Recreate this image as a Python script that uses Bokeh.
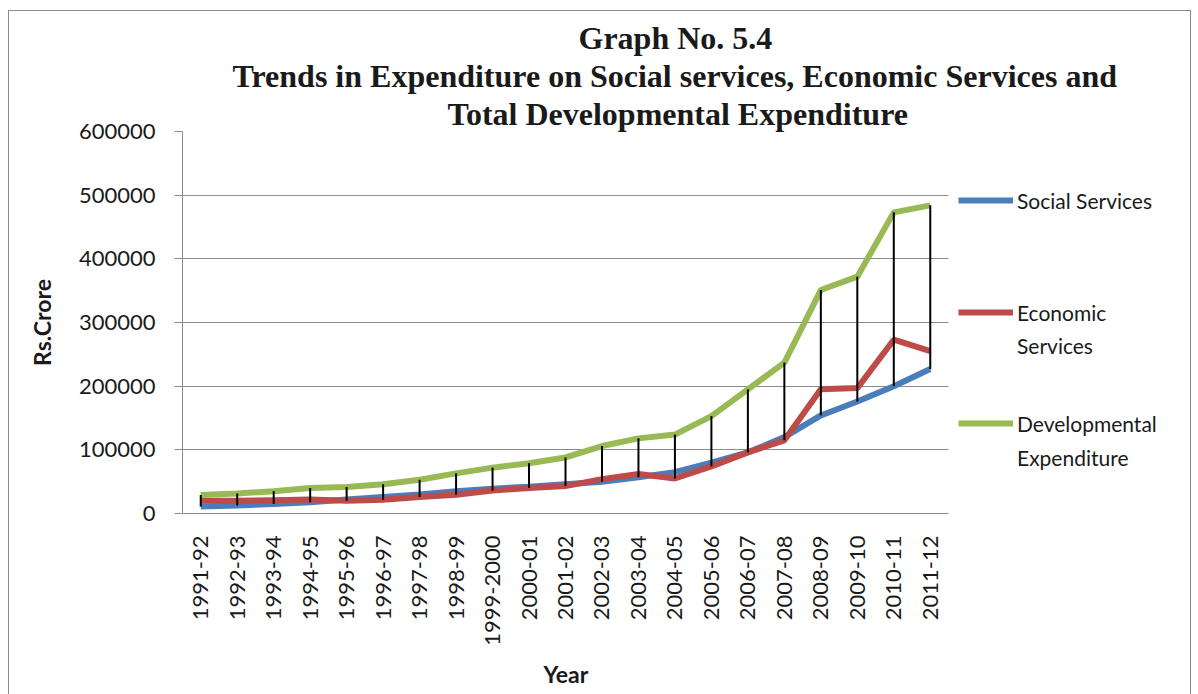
import math
from bokeh.plotting import figure
from bokeh.models import (ColumnDataSource, Range1d, FixedTicker, NumeralTickFormatter,
                          Legend, LegendItem, Title)
from bokeh.embed import file_html
from bokeh.resources import INLINE

# Expenditure, Rs. crore
years = ["1991-92", "1992-93", "1993-94", "1994-95", "1995-96", "1996-97", "1997-98",
         "1998-99", "1999-2000", "2000-01", "2001-02", "2002-03", "2003-04", "2004-05",
         "2005-06", "2006-07", "2007-08", "2008-09", "2009-10", "2010-11", "2011-12"]
social = [11000, 12500, 15000, 17500, 22000, 26000, 30000, 35000, 39000, 42000, 46000,
          50000, 57000, 65000, 80000, 96000, 120000, 154000, 176000, 200000, 227000]
economic = [20000, 20000, 21000, 22000, 20000, 21500, 26000, 29500, 36000, 40000, 43000,
            54000, 62000, 55000, 74000, 96000, 115000, 195000, 197000, 273000, 255000]
developmental = [29000, 31500, 35000, 40000, 41500, 46000, 53000, 63000, 72000, 79000, 88000,
                 106000, 118000, 124000, 153000, 195000, 237000, 351000, 372000, 473000, 484000]
y_ticks = [0, 100000, 200000, 300000, 400000, 500000, 600000]

pos = list(range(len(years)))          # category slots along the x axis
src = ColumnDataSource(dict(
    pos=pos, social=social, economic=economic, developmental=developmental,
    low=[min(a, b) for a, b in zip(social, economic)],
))

W, H = 1183, 686
FL, FR, FT, FB = 173, 939, 120, 502   # chart area edges inside the canvas
# the frame runs on to the right canvas edge so the legend can sit in it
x_lo, x_hi = -0.5, len(years) - 0.5
x_end = x_lo + (x_hi - x_lo) * (W - FL) / (FR - FL)

p = figure(x_range=Range1d(x_lo, x_end), y_range=Range1d(0, 600000), width=W, height=H,
           output_backend="svg", toolbar_location=None,
           min_border_left=FL, min_border_right=0,
           min_border_top=FT, min_border_bottom=H - FB,
           background_fill_color="white", border_fill_color="white")
p.styles = {"border": "1px solid #8c8c8c", "margin-left": "8px", "margin-top": "10px"}
p.outline_line_color = None

grid_col = "#8c8c8c"
p.xgrid.grid_line_color = None
p.ygrid.grid_line_color = grid_col
p.ygrid.ticker = FixedTicker(ticks=y_ticks)
p.ygrid.cross_bounds = (x_lo, x_hi)

p.yaxis.ticker = FixedTicker(ticks=y_ticks)
p.yaxis.formatter = NumeralTickFormatter(format="0")
p.yaxis.axis_line_color = grid_col
p.yaxis.major_tick_line_color = grid_col
p.yaxis.major_tick_out = 8
p.yaxis.major_tick_in = 0
p.yaxis.minor_tick_line_color = None
p.yaxis.major_label_standoff = 19
p.yaxis.major_label_text_font = "Lato"
p.yaxis.major_label_text_font_size = "22px"
p.yaxis.major_label_text_color = "#1a1a1a"
p.yaxis.axis_label = "Rs.Crore"
p.yaxis.axis_label_text_font = "Lato"
p.yaxis.axis_label_text_font_size = "23px"
p.yaxis.axis_label_text_font_style = "bold"
p.yaxis.axis_label_text_color = "#1a1a1a"
p.yaxis.axis_label_standoff = 20

p.xaxis.bounds = (x_lo, x_hi)
p.xaxis.ticker = FixedTicker(ticks=pos)
p.xaxis.major_label_overrides = {i: y for i, y in zip(pos, years)}
p.xaxis.axis_line_color = grid_col
p.xaxis.major_tick_line_color = None
p.xaxis.minor_tick_line_color = None
p.xaxis.major_tick_out = 0
p.xaxis.major_label_orientation = math.pi / 2
p.xaxis.major_label_standoff = 22
p.xaxis.major_label_text_font = "Lato"
p.xaxis.major_label_text_font_size = "22px"
p.xaxis.major_label_text_color = "#1a1a1a"

r_soc = p.line("pos", "social", source=src, line_color="#4A7EBB", line_width=6)
r_eco = p.line("pos", "economic", source=src, line_color="#BE4B48", line_width=6)
r_dev = p.line("pos", "developmental", source=src, line_color="#98B954", line_width=6)
# high-low lines from the total down to the lower of the two components
p.segment(x0="pos", y0="developmental", x1="pos", y1="low", source=src,
          line_color="black", line_width=2)

# legend: one entry per text line; continuation lines carry an invisible glyph
r_none = p.line(x=[], y=[], line_alpha=0)
entries = [("Social Services", r_soc, 298), ("Economic", r_eco, 186), ("Services", r_none, 153),
           ("Developmental", r_dev, 75), ("Expenditure", r_none, 41)]
for text, rend, ybot in entries:
    p.add_layout(Legend(items=[LegendItem(label=text, renderers=[rend])], location=(776, ybot),
                        border_line_color=None, background_fill_alpha=0, padding=0, margin=0,
                        glyph_width=55, glyph_height=30, label_height=30, label_standoff=4,
                        label_text_font="Lato", label_text_font_size="21px",
                        label_text_color="#1a1a1a"))

# three-line heading, top line in the figure title
p.title.text = "Graph No. 5.4"
heading = [p.title,
           Title(text="Trends in Expenditure on Social services, Economic Services and"),
           Title(text="Total Developmental Expenditure")]
offsets = [396, 50, 265]
for t, off in zip(heading, offsets):
    t.align = "left"
    t.offset = off
    t.standoff = 0
    t.text_font = "Liberation Serif"
    t.text_font_style = "bold"
    t.text_font_size = "32px"
    t.text_color = "#1a1a1a"
p.add_layout(heading[2], "above")
p.add_layout(heading[1], "above")

# x axis title, centred under the chart area
p.add_layout(Title(text="Year", align="left", offset=361, standoff=18,
                   text_font="Lato", text_font_style="bold", text_font_size="23px",
                   text_color="#1a1a1a"), "below")

open("out.html", "w").write(file_html(p, INLINE))
